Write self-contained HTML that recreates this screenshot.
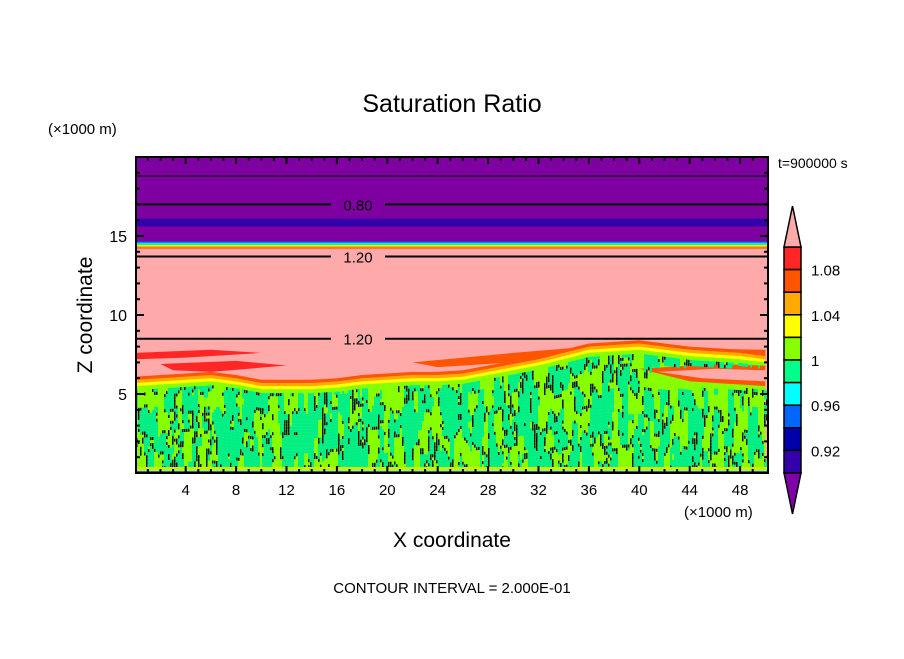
<!DOCTYPE html>
<html><head><meta charset="utf-8"><style>
body{margin:0;background:#fff;}
svg text{font-family:"Liberation Sans","DejaVu Sans",sans-serif;fill:#000;}
</style></head><body>
<svg id="chart" width="904" height="654" viewBox="0 0 904 654" xmlns="http://www.w3.org/2000/svg">
<text x="452" y="112" font-size="25" text-anchor="middle">Saturation Ratio</text>
<text x="48" y="134" font-size="15">(×1000 m)</text>
<text x="778" y="168" font-size="14">t=900000 s</text>
<text x="0" y="0" font-size="21" text-anchor="middle" transform="translate(92,315) rotate(-90)">Z coordinate</text>
<text x="452" y="547" font-size="21" text-anchor="middle">X coordinate</text>
<text x="684" y="517" font-size="15">(×1000 m)</text>
<text x="452" y="593" font-size="15" text-anchor="middle">CONTOUR INTERVAL = 2.000E-01</text>
<g id="plot"></g>
<g id="axes"></g>
<g id="cbar"></g>
</svg>
<script>
const xTicks=[4,8,12,16,20,24,28,32,36,40,44,48];
const yTicks=[5,10,15];
const cbLevels=[1.08,1.04,1,0.96,0.92];
const cbColors=["#ff2626","#ff5500","#ffaa00","#ffff00","#88ff00","#00ff88","#00ffff","#0066ff","#0000aa","#3300aa"];
const purple="#7f00a0", pink="#ffaaaa";
const bandDark=[15.6,16.1];
const stripeZ=[14.2,14.65];
const contourLines=[{z:18.8,label:""},{z:17.0,label:"0.80"},{z:13.7,label:"1.20"},{z:8.5,label:"1.20"}];
const cloudX=[0,2,4,6,8,10,12,14,16,18,20,22,24,26,28,30,32,34,36,38,40,42,44,46,48,50];
const cloudTop=[5.5,5.6,5.7,5.8,5.6,5.3,5.3,5.3,5.4,5.6,5.7,5.8,5.8,5.9,6.2,6.5,6.8,7.2,7.6,7.7,7.8,7.6,7.4,7.3,7.2,7.0];
const X0=135.3,XS=12.6,Y0=473,YS=15.8,PL=136,PR=768,PT=157,PB=473;
const sx=v=>X0+v*XS, sy=v=>Y0-v*YS;
const NS="http://www.w3.org/2000/svg";
function el(t,a,p){const e=document.createElementNS(NS,t);for(const k in a)e.setAttribute(k,a[k]);p.appendChild(e);return e;}
const plot=document.getElementById('plot');
function rect(y1,y2,fill,name){const r=el('rect',{x:PL,y:sy(y2),width:PR-PL,height:sy(y1)-sy(y2),fill:fill},plot);

return r;}
rect(14.4,20,purple,'upper-purple-region');
rect(bandDark[0],bandDark[1],"#3300aa",'dark-band');
rect(0,14.4,pink,'pink-region');
const sc=["#0066ff","#00ffff","#00ff88","#ffff00","#ffaa00","#ff5500"];
sc.forEach((c,i)=>{const h=(stripeZ[1]-stripeZ[0])/sc.length;rect(stripeZ[1]-h*(i+1),stripeZ[1]-h*i,c,'transition-stripe');});
function poly(pts,fill,name){const p=el('polygon',{points:pts.map(q=>sx(q[0])+','+sy(q[1])).join(' '),fill:fill},plot);

}
poly([[0,7.6],[6,7.8],[10,7.6],[4,7.3],[0,7.2]],"#ff2626",'red-streak-left');
poly([[2,6.9],[8,7.1],[12,6.8],[6,6.4],[3,6.5]],"#ff2626",'red-streak-left2');
poly([[22,7.0],[30,7.6],[36,8.0],[50,7.8],[50,7.3],[40,7.3],[30,7.0],[24,6.7]],"#ff5500",'red-streak-right');
const cTop=i=>cloudTop[i];
function band(off,fill,name){const pts=[[0,0]];cloudX.forEach((x,i)=>pts.push([x,cTop(i)+off]));pts.push([50,0]);poly(pts,fill,name);}
band(0.6,"#ff5500",'cloud-halo-red');
band(0.4,"#ffaa00",'cloud-halo-orange');
band(0.2,"#ffff00",'cloud-halo-yellow');
band(0,"#88ff00",'cloud-green');
poly([[40,6.6],[44,5.8],[50,5.5],[50,6.8],[46,6.9]],"#ff5500",'pink-wedge-edge');
poly([[41.5,6.4],[45,6.0],[50,5.8],[50,6.5],[46,6.6]],pink,'pink-wedge');
function hash(i,j){let h=(i*374761393+j*668265263)|0;h=(h^(h>>>13))*1274126177|0;return ((h^(h>>>16))>>>0)/4294967295;}
function vnoise(x,y){const i=Math.floor(x),j=Math.floor(y),fx=x-i,fy=y-j;const ux=fx*fx*(3-2*fx),uy=fy*fy*(3-2*fy);
 const a=hash(i,j),b=hash(i+1,j),c=hash(i,j+1),d=hash(i+1,j+1);return a+(b-a)*ux+(c-a)*uy+(a-b-c+d)*ux*uy;}
const tex=el('g',{},plot);


const cw=2,ch=3;
for(let px=PL;px<PR;px+=cw){const xv=(px-X0)/XS;let i=Math.max(0,Math.min(cloudX.length-2,Math.floor(xv/2)));const f=(xv-cloudX[i])/2;let tz=cTop(i)*(1-f)+cTop(i+1)*f-0.25;
 for(let py=sy(tz);py<PB-6;py+=ch){
  const v=0.65*vnoise(px/5,py/20)+0.35*vnoise(px/2.5,py/8+50);
  const zv=(Y0-py)/YS; if(xv>41&&zv>5.4&&zv<6.8)continue;
  if(v>0.47){el('rect',{x:px,y:py,width:cw,height:ch,fill:"#00ee88"},tex);}
  if(Math.abs(v-0.47)<0.03){el('rect',{x:px,y:py,width:1.5,height:ch,fill:"#111"},tex);}
 }}
el('rect',{x:PL,y:PB-6,width:PR-PL,height:4,fill:"#ccee00"},plot);
el('rect',{x:PL,y:PB-2,width:PR-PL,height:2,fill:"#0066ff"},plot);
contourLines.forEach(c=>{const y=sy(c.z);
 if(c.label){const l1=el('line',{x1:PL,y1:y,x2:331,y2:y,stroke:"#000","stroke-width":2},plot);
  
  
  el('line',{x1:385,y1:y,x2:PR,y2:y,stroke:"#000","stroke-width":2},plot);
  const t=el('text',{x:358,y:y+6,"font-size":15,"text-anchor":"middle"},plot);t.textContent=c.label;
  
  }
 else{const l=el('line',{x1:PL,y1:y,x2:PR,y2:y,stroke:"#000","stroke-width":1},plot);
  
  }
});
const ax=document.getElementById('axes');
el('rect',{x:PL,y:PT,width:PR-PL,height:PB-PT,fill:"none",stroke:"#000","stroke-width":2},ax);
for(let v=1;v<50;v++){const x=sx(v);const big=v%4==0;
 el('line',{x1:x,y1:PB,x2:x,y2:PB-(big?7:4),stroke:"#000","stroke-width":2},ax);
 el('line',{x1:x,y1:PT,x2:x,y2:PT+(big?7:4),stroke:"#000","stroke-width":2},ax);}
xTicks.forEach(v=>{const t=el('text',{x:sx(v),y:PB+22,"font-size":15,"text-anchor":"middle"},ax);t.textContent=v;
 
 });
for(let v=1;v<20;v++){const y=sy(v);const big=v%5==0;
 el('line',{x1:PL,y1:y,x2:PL+(big?8:4),y2:y,stroke:"#000","stroke-width":2},ax);
 el('line',{x1:PR,y1:y,x2:PR-(big?8:4),y2:y,stroke:"#000","stroke-width":2},ax);}
yTicks.forEach(v=>{const t=el('text',{x:127,y:sy(v)+6,"font-size":16,"text-anchor":"end"},ax);t.textContent=v;
 
 });
const cb=document.getElementById('cbar');
const CX=784,CW=17,CT=247,CB=473,bh=(CB-CT)/cbColors.length;
cbColors.forEach((c,i)=>{const r=el('rect',{x:CX,y:CT+i*bh,width:CW,height:bh,fill:c,stroke:"#000","stroke-width":1.5},cb);
 
 });
const tu=el('polygon',{points:`${CX},${CT} ${CX+CW/2},206 ${CX+CW},${CT}`,fill:pink,stroke:"#000","stroke-width":1.5},cb);


const tb=el('polygon',{points:`${CX},${CB} ${CX+CW/2},514 ${CX+CW},${CB}`,fill:"#8000a8",stroke:"#000","stroke-width":1.5},cb);


cbLevels.forEach((v,i)=>{const t=el('text',{x:811,y:CT+(2*i+1)*bh+6,"font-size":15},cb);t.textContent=v;
 
 });
</script>
</body></html>
